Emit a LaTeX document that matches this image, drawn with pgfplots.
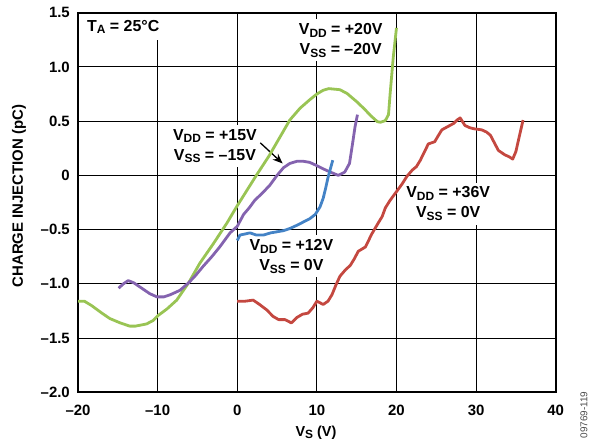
\documentclass[border=0pt]{standalone}
\usepackage{fontspec}
\setmainfont{Liberation Sans}
\usepackage{pgfplots}
\pgfplotsset{compat=1.18}
\usetikzlibrary{arrows.meta}

\definecolor{cgreen}{RGB}{153,196,84}
\definecolor{cpurple}{RGB}{132,99,175}
\definecolor{cblue}{RGB}{68,131,198}
\definecolor{cred}{RGB}{196,72,64}

\newcommand{\sub}[1]{\raisebox{-2.7bp}{\fontsize{12}{12}\selectfont #1}}
\tikzset{lab/.style={fill=white, align=center, inner xsep=3bp, inner ysep=4bp,
    font=\fontsize{16}{20}\selectfont\bfseries}}

\begin{document}
\begin{tikzpicture}
\begin{axis}[
    width=477.7bp, height=379.6bp, scale only axis,
    xmin=-20, xmax=40, ymin=-2, ymax=1.5,
    xtick={-20,-10,...,40},
    xticklabels={–20,–10,0,10,20,30,40},
    ytick={-2,-1.5,-1,-0.5,0,0.5,1,1.5},
    yticklabels={–2.0,–1.5,–1.0,–0.5,0,0.5,1.0,1.5},
    grid=major,
    major grid style={black, line width=1.1bp},
    axis line style={line width=2bp},
    major tick length=0pt,
    tick label style={font=\fontsize{15}{18}\selectfont\bfseries},
    xticklabel style={anchor=north, inner sep=0pt, yshift=-12.5bp},
    yticklabel style={anchor=east, inner sep=0pt, xshift=-8bp},
    every axis plot/.append style={line width=2.8bp, line join=round, no markers},
  ]
  \coordinate (SW) at (rel axis cs:0,0);

  % labels first so the curves lie over them
  \node[lab, anchor=north west, inner xsep=8bp, inner ysep=6bp]
    at ([xshift=1bp,yshift=-1bp]rel axis cs:0,1) {T\sub{A} = 25°C};
  \node[lab] at (axis cs:13.0,1.245) {V\sub{DD} = +20V\\V\sub{SS} = –20V};
  \node[lab] at (axis cs:-2.8,0.27) {V\sub{DD} = +15V\\V\sub{SS} = –15V};
  \node[lab] at (axis cs:6.8,-0.745) {V\sub{DD} = +12V\\V\sub{SS} = 0V};
  \node[lab] at (axis cs:26.5,-0.26) {V\sub{DD} = +36V\\V\sub{SS} = 0V};
  \draw[-{Stealth[length=10bp,width=8bp]}, line width=1.3bp]
    (axis cs:2.9,0.30) -- (axis cs:5.7,0.11);

  % VDD=+20V, VSS=-20V
  \addplot[cgreen] coordinates {
    (-20,-1.16) (-19.2,-1.16) (-18.3,-1.20) (-17,-1.27) (-16,-1.32)
    (-14.7,-1.36) (-13.5,-1.39) (-12.8,-1.39) (-11.4,-1.37) (-10.6,-1.34)
    (-9.9,-1.29) (-8.8,-1.23) (-7.6,-1.15) (-6.1,-0.99) (-4.7,-0.81)
    (-3.0,-0.63) (-1.3,-0.44) (0,-0.28) (1.2,-0.14) (2.4,0.0) (4,0.18)
    (5.5,0.37) (6.6,0.51) (7.9,0.62) (9.15,0.70) (10.0,0.75) (10.8,0.785)
    (11.5,0.80) (12.9,0.79) (13.8,0.755) (15.0,0.68) (16.0,0.61)
    (16.7,0.555) (17.6,0.495) (18.0,0.49) (18.6,0.505) (19.0,0.56)
    (19.2,0.75) (19.6,1.09) (20.0,1.36)
  };
  % VDD=+15V, VSS=-15V
  \addplot[cpurple] coordinates {
    (-14.9,-1.04) (-14.3,-1.0) (-13.7,-0.97) (-13.0,-0.99) (-12.2,-1.03)
    (-11,-1.09) (-10.1,-1.12) (-9.2,-1.12) (-8.4,-1.10) (-7.2,-1.06)
    (-6.1,-0.99) (-5.2,-0.92) (-4.3,-0.84) (-3.2,-0.75) (-2.2,-0.66)
    (-0.9,-0.53) (0,-0.47) (0.8,-0.36) (1.5,-0.30) (2.2,-0.23) (3.2,-0.16)
    (4.1,-0.09) (5.0,0.0) (5.8,0.07) (6.6,0.11) (7.5,0.13) (8.3,0.13)
    (9.1,0.12) (10.0,0.09) (10.8,0.06) (11.7,0.03) (12.7,0.0) (13.5,0.03)
    (14.1,0.11) (14.5,0.30) (14.8,0.45) (15.1,0.56)
  };
  % VDD=+12V, VSS=0V
  \addplot[cblue] coordinates {
    (0,-0.60) (0.35,-0.55) (1.0,-0.54) (1.6,-0.53) (2.4,-0.55) (3.3,-0.55)
    (4.2,-0.53) (5.0,-0.52) (5.8,-0.51) (6.6,-0.49) (7.5,-0.46) (8.3,-0.43)
    (9.1,-0.40) (9.8,-0.36) (10.4,-0.29) (10.8,-0.21) (11.1,-0.12)
    (11.4,-0.02) (11.7,0.06) (12.0,0.14)
  };
  % VDD=+36V, VSS=0V
  \addplot[cred] coordinates {
    (0,-1.16) (1.0,-1.16) (2.0,-1.15) (2.8,-1.19) (3.7,-1.24) (4.5,-1.30)
    (5.2,-1.33) (6.0,-1.33) (6.8,-1.36) (7.5,-1.31) (8.2,-1.28) (8.9,-1.27)
    (9.5,-1.22) (10.0,-1.16) (10.8,-1.19) (11.4,-1.16) (11.9,-1.10)
    (12.4,-1.01) (12.9,-0.93) (13.6,-0.87) (14.2,-0.83) (14.7,-0.77)
    (15.2,-0.70) (16.1,-0.66) (16.9,-0.54) (17.7,-0.44) (18.2,-0.38)
    (18.6,-0.30) (19.2,-0.23) (20.0,-0.15) (20.7,-0.08) (21.3,-0.01)
    (22.0,0.05) (22.5,0.08) (23.0,0.14) (23.4,0.20) (24.0,0.29) (24.8,0.31)
    (25.2,0.36) (25.7,0.42) (26.7,0.46) (27.2,0.48) (27.6,0.51) (28.0,0.53)
    (28.6,0.46) (29.2,0.44) (29.7,0.43) (30.7,0.42) (31.3,0.40) (31.8,0.37)
    (32.3,0.30) (32.8,0.23) (33.6,0.19) (34.2,0.17) (34.6,0.15) (35.0,0.22)
    (35.4,0.35) (35.9,0.51)
  };
\end{axis}

% axis titles and figure number
\node[rotate=90, font=\fontsize{15}{18}\selectfont\bfseries]
  at ([xshift=-59bp,yshift=196.3bp]SW) {CHARGE INJECTION (pC)};
\node[font=\fontsize{14.5}{18}\selectfont\bfseries]
  at ([xshift=238bp,yshift=-40bp]SW) {V\sub{S} (V)};
\node[rotate=90, font=\fontsize{10}{12}\selectfont, text=black!70]
  at ([xshift=506bp,yshift=-22.7bp]SW) {09769-119};

\pgfresetboundingbox
\useasboundingbox ([xshift=-78bp,yshift=-55.7bp]SW) rectangle ++(597bp,448bp);
\end{tikzpicture}
\end{document}
